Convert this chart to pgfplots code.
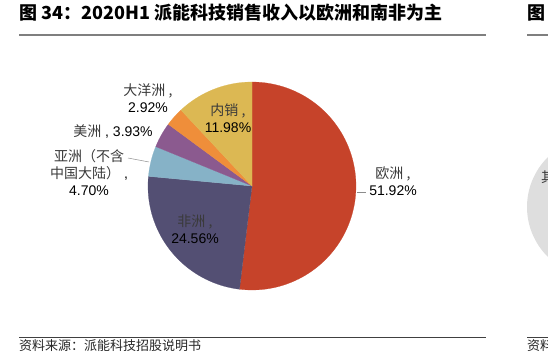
\documentclass[border=0pt]{standalone}
\usepackage{pgfplots}
\pgfplotsset{compat=1.18}
\usepackage{pgfplotstable}
\usepackage{fontspec}
\setmainfont{Liberation Sans}
\newfontfamily\cjk{Noto Sans CJK SC}
\definecolor{cEU}{HTML}{C6432A}
\definecolor{cAF}{HTML}{534F73}
\definecolor{cAS}{HTML}{86B2C7}
\definecolor{cAM}{HTML}{8B5A8F}
\definecolor{cOC}{HTML}{EF8E3A}
\definecolor{cCN}{HTML}{DCB853}
\definecolor{zh}{HTML}{3A3A3A}
\definecolor{rulegray}{HTML}{7F7F7F}
\newcommand\zh[1]{{\cjk\color{zh}#1}}

\pgfplotstableread{
region value
EU 51.92
AF 24.56
AS 4.70
AM 3.93
OC 2.92
CN 11.98
}\piedata

\begin{document}
\begin{tikzpicture}
\pgfplotstablegetelem{0}{value}\of\piedata \let\vA\pgfplotsretval
\pgfplotstablegetelem{1}{value}\of\piedata \let\vB\pgfplotsretval
\pgfplotstablegetelem{2}{value}\of\piedata \let\vC\pgfplotsretval
\pgfplotstablegetelem{3}{value}\of\piedata \let\vD\pgfplotsretval
\pgfplotstablegetelem{4}{value}\of\piedata \let\vE\pgfplotsretval
\pgfplotstablegetelem{5}{value}\of\piedata \let\vF\pgfplotsretval
\pgfmathsetmacro\tA{90}
\pgfmathsetmacro\tB{\tA-3.6*\vA}
\pgfmathsetmacro\tC{\tB-3.6*\vB}
\pgfmathsetmacro\tD{\tC-3.6*\vC}
\pgfmathsetmacro\tE{\tD-3.6*\vD}
\pgfmathsetmacro\tF{\tE-3.6*\vE}
\pgfmathsetmacro\tG{\tF-3.6*\vF}
\path[use as bounding box] (0,0) rectangle (548bp,353bp);
\clip (0,0) rectangle (548bp,353bp);
\begin{axis}[at={(0,0)}, anchor=south west, scale only axis,
  width=548bp, height=353bp, xmin=0, xmax=548, ymin=0, ymax=353,
  y dir=reverse, hide axis, clip=false]
% pie slices
\addplot[fill=cEU, draw=cEU, line width=0.2pt, domain=\tB:\tA, samples=90, variable=\t]
  ({252+104*cos(\t)},{186-104*sin(\t)}) -- (axis cs:252,186) -- cycle;
\addplot[fill=cAF, draw=cAF, line width=0.2pt, domain=\tC:\tB, samples=60, variable=\t]
  ({252+104*cos(\t)},{186-104*sin(\t)}) -- (axis cs:252,186) -- cycle;
\addplot[fill=cAS, draw=cAS, line width=0.2pt, domain=\tD:\tC, samples=20, variable=\t]
  ({252+104*cos(\t)},{186-104*sin(\t)}) -- (axis cs:252,186) -- cycle;
\addplot[fill=cAM, draw=cAM, line width=0.2pt, domain=\tE:\tD, samples=20, variable=\t]
  ({252+104*cos(\t)},{186-104*sin(\t)}) -- (axis cs:252,186) -- cycle;
\addplot[fill=cOC, draw=cOC, line width=0.2pt, domain=\tF:\tE, samples=20, variable=\t]
  ({252+104*cos(\t)},{186-104*sin(\t)}) -- (axis cs:252,186) -- cycle;
\addplot[fill=cCN, draw=cCN, line width=0.2pt, domain=\tG:\tF, samples=30, variable=\t]
  ({252+104*cos(\t)},{186-104*sin(\t)}) -- (axis cs:252,186) -- cycle;
% neighbouring (cropped) chart
\addplot[fill=black!13, draw=none, domain=134.4:225.6, samples=40, variable=\t]
  ({597+70*cos(\t)},{207-70*sin(\t)}) -- cycle;

\begin{scope}[every node/.style={font=\fontsize{14bp}{17bp}\selectfont, align=center, inner sep=0pt}]
\node at (axis cs:393,181) {\zh{欧洲 ,}\\51.92\%};
\node at (axis cs:195,229) {\zh{非洲 ,}\\24.56\%};
\node at (axis cs:228,118) {\zh{内销 ,}\\11.98\%};
\node at (axis cs:148,98) {\zh{大洋洲 ,}\\2.92\%};
\node at (axis cs:113,131) {\zh{美洲} , 3.93\%};
\node at (axis cs:89,173) {\zh{亚洲（不含}\\\zh{中国大陆）} ,\\4.70\%};
\end{scope}
\draw[black!45, line width=0.5pt] (axis cs:357,192) -- (axis cs:366,192);
\draw[black!45, line width=0.5pt] (axis cs:128,158) -- (axis cs:149,162);

% title and rules
\node[anchor=west, inner sep=0pt, font=\cjk\bfseries\fontsize{18bp}{20bp}\selectfont]
  at (axis cs:19,13) {图 34：2020H1 派能科技销售收入以欧洲和南非为主};
\draw[rulegray, line width=1.6bp] (axis cs:19,35) -- (axis cs:486,35);
\draw[black!75, line width=0.8bp] (axis cs:19,337) -- (axis cs:486,337);
\node[anchor=west, inner sep=0pt, font=\cjk\fontsize{13bp}{15bp}\selectfont, text=black!85]
  at (axis cs:19,346) {资料来源：派能科技招股说明书};
% cropped neighbour pieces
\node[anchor=west, inner sep=0pt, font=\cjk\bfseries\fontsize{18bp}{20bp}\selectfont]
  at (axis cs:527,13) {图};
\draw[rulegray, line width=1.6bp] (axis cs:527,35) -- (axis cs:560,35);
\draw[black!75, line width=0.8bp] (axis cs:527,337) -- (axis cs:560,337);
\node[anchor=west, inner sep=0pt, font=\cjk\fontsize{13bp}{15bp}\selectfont, text=black!85]
  at (axis cs:527,346) {资料};
\node[anchor=west, inner sep=0pt, font=\fontsize{14bp}{17bp}\selectfont]
  at (axis cs:541,177) {\zh{其}\\3};
\end{axis}
\end{tikzpicture}
\end{document}
